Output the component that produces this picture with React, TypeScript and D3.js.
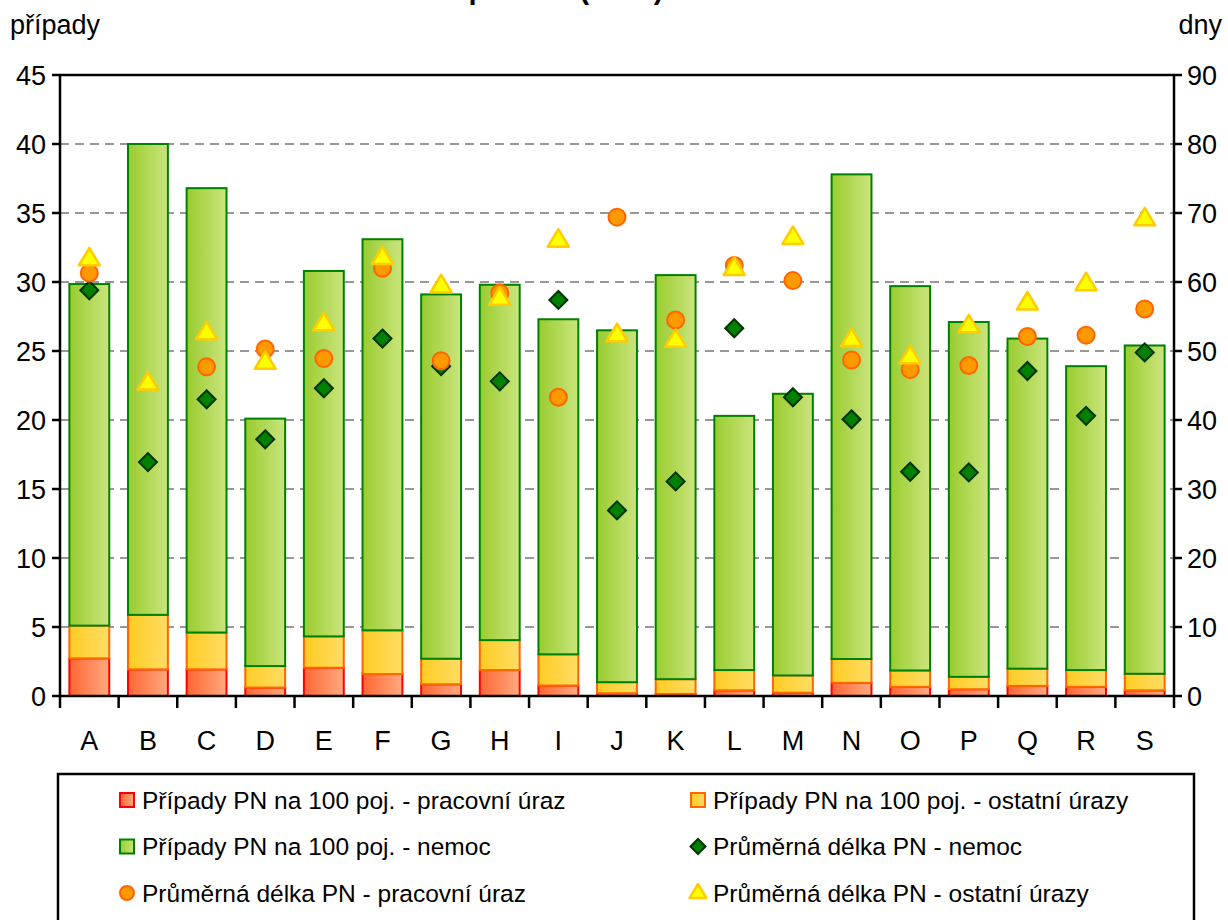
import React from 'react';
import * as d3 from 'd3';

// sekce CZ-NACE
const categories = ['A', 'B', 'C', 'D', 'E', 'F', 'G', 'H', 'I', 'J', 'K', 'L', 'M', 'N', 'O', 'P', 'Q', 'R', 'S'];

// případy PN na 100 pojištěnců (stacked)
const casesWork = [2.73, 1.93, 1.93, 0.61, 2.05, 1.59, 0.85, 1.88, 0.76, 0.2, 0.15, 0.41, 0.24, 0.95, 0.66, 0.49, 0.73, 0.66, 0.41];
const casesOther = [2.37, 3.95, 2.67, 1.56, 2.27, 3.17, 1.85, 2.17, 2.26, 0.8, 1.07, 1.47, 1.25, 1.73, 1.19, 0.9, 1.25, 1.22, 1.2];
const casesIllness = [24.75, 34.12, 32.2, 17.93, 26.48, 28.34, 26.4, 25.75, 24.28, 25.5, 29.28, 18.42, 20.41, 35.12, 27.85, 25.71, 23.92, 22.02, 23.79];

// průměrná délka PN (dny)
const daysIllness = [58.8, 33.9, 43.0, 37.2, 44.6, 51.8, 47.8, 45.6, 57.4, 26.9, 31.1, 53.3, 43.3, 40.1, 32.5, 32.4, 47.1, 40.6, 49.8];
const daysWork = [61.3, null, 47.7, 50.3, 48.9, 62.0, 48.6, 58.4, 43.3, 69.4, 54.5, 62.4, 60.2, 48.7, 47.3, 47.9, 52.1, 52.3, 56.1];
const daysOther = [63.5, 45.5, 52.8, 48.5, 54.1, 63.7, 59.6, 57.8, 66.2, 52.5, 51.7, 62.1, 66.6, 51.8, 49.3, 53.8, 57.1, 59.9, 69.3];

const leftTicks = [0, 5, 10, 15, 20, 25, 30, 35, 40, 45];
const rightTicks = [0, 10, 20, 30, 40, 50, 60, 70, 80, 90];

const legendItems = [
  { label: 'Případy PN na 100 poj. - pracovní úraz', kind: 'red' },
  { label: 'Případy PN na 100 poj. - ostatní úrazy', kind: 'yellow' },
  { label: 'Případy PN na 100 poj. - nemoc', kind: 'green' },
  { label: 'Průměrná délka PN - nemoc', kind: 'diamond' },
  { label: 'Průměrná délka PN - pracovní úraz', kind: 'circle' },
  { label: 'Průměrná délka PN - ostatní úrazy', kind: 'triangle' },
];

const W = 1228;
const H = 920;
const m = { left: 60, right: 1174, top: 75, bottom: 696 };
const FONT = 'Liberation Sans, Arial, sans-serif';

const Diamond = ({ x, y, r }: { x: number; y: number; r: number }) => (
  <path d={`M${x},${y - r}L${x + r},${y}L${x},${y + r}L${x - r},${y}Z`} fill="#008000" stroke="#003300" strokeWidth={2} />
);
const Triangle = ({ x, y, r }: { x: number; y: number; r: number }) => (
  <path d={`M${x},${y - r}L${x + r * 1.05},${y + r * 0.75}L${x - r * 1.05},${y + r * 0.75}Z`} fill="#ffff00" stroke="#ffcc00" strokeWidth={2.5} strokeLinejoin="round" />
);
const Circle = ({ x, y, r }: { x: number; y: number; r: number }) => (
  <circle cx={x} cy={y} r={r} fill="#ff9900" stroke="#ff6600" strokeWidth={2} />
);

export default function App() {
  const x = d3.scaleBand<string>().domain(categories).range([m.left, m.right]).padding(0);
  const yL = d3.scaleLinear().domain([0, 45]).range([m.bottom, m.top]);
  const yR = d3.scaleLinear().domain([0, 90]).range([m.bottom, m.top]);
  const bw = x.bandwidth() * 0.68;

  const stackData = categories.map((c, i) => ({ cat: c, work: casesWork[i], other: casesOther[i], ill: casesIllness[i] }));
  const stack = d3.stack<any>().keys(['work', 'other', 'ill'])(stackData);
  const fills: Record<string, [string, string]> = {
    work: ['url(#gRed)', '#ff0000'],
    other: ['url(#gYel)', '#ff6600'],
    ill: ['url(#gGrn)', '#008000'],
  };

  const cx = (c: string) => (x(c) as number) + x.bandwidth() / 2;

  return (
    <svg width={W} height={H} style={{ display: 'block', position: 'absolute', left: 0, top: 0, background: '#fff' }} fontFamily={FONT}>
      <defs>
        <linearGradient id="gGrn" x1="0" x2="1" y1="0" y2="0">
          <stop offset="0" stopColor="#99cc2e" />
          <stop offset="1" stopColor="#cbe57e" />
        </linearGradient>
        <linearGradient id="gYel" x1="0" x2="1" y1="0" y2="0">
          <stop offset="0" stopColor="#ffcc22" />
          <stop offset="1" stopColor="#ffdd66" />
        </linearGradient>
        <linearGradient id="gRed" x1="0" x2="1" y1="0" y2="0">
          <stop offset="0" stopColor="#ff6633" />
          <stop offset="1" stopColor="#ffaa80" />
        </linearGradient>
      </defs>
      <rect width={W} height={H} fill="#fff" />

      {/* title, cut off at top as in the source (only descenders show) */}
      <text x={246} y={-1.5} fontSize={29} fontWeight="bold">Nemocnost v 1. pololetí (2012)</text>

      <text x={10} y={34} fontSize={27}>případy</text>
      <text x={1222} y={34} fontSize={27} textAnchor="end">dny</text>

      {/* grid */}
      {leftTicks.filter(t => t > 0 && t < 45).map(t => (
        <line key={t} x1={m.left} x2={m.right} y1={yL(t)} y2={yL(t)} stroke="#333" strokeWidth={1.2} strokeDasharray="9,6" />
      ))}

      {/* bars */}
      {stack.map(layer => (
        <g key={layer.key}>
          {layer.map((d, i) => (
            <rect key={i} x={cx(categories[i]) - bw / 2} y={yL(d[1])} width={bw} height={Math.max(0, yL(d[0]) - yL(d[1]))}
              fill={fills[layer.key][0]} stroke={fills[layer.key][1]} strokeWidth={2} />
          ))}
        </g>
      ))}

      {/* markers */}
      {daysIllness.map((v, i) => <Diamond key={'d' + i} x={cx(categories[i])} y={yR(v)} r={9} />)}
      {daysWork.map((v, i) => v == null ? null : <Circle key={'c' + i} x={cx(categories[i])} y={yR(v)} r={8.5} />)}
      {daysOther.map((v, i) => <Triangle key={'t' + i} x={cx(categories[i])} y={yR(v)} r={10} />)}

      {/* frame & axes */}
      <line x1={m.left} x2={m.right} y1={m.top} y2={m.top} stroke="#000" strokeWidth={2.5} />
      <line x1={m.left} x2={m.left} y1={m.top} y2={m.bottom} stroke="#000" strokeWidth={2.5} />
      <line x1={m.right} x2={m.right} y1={m.top} y2={m.bottom} stroke="#000" strokeWidth={2.5} />
      <line x1={m.left} x2={m.right} y1={m.bottom} y2={m.bottom} stroke="#000" strokeWidth={2.5} />

      {leftTicks.map(t => (
        <g key={'l' + t}>
          <line x1={m.left - 8} x2={m.left} y1={yL(t)} y2={yL(t)} stroke="#000" strokeWidth={2.5} />
          <text x={m.left - 14} y={yL(t)} dy="0.36em" fontSize={27} textAnchor="end">{t}</text>
        </g>
      ))}
      {rightTicks.map(t => (
        <g key={'r' + t}>
          <line x1={m.right} x2={m.right + 8} y1={yR(t)} y2={yR(t)} stroke="#000" strokeWidth={2.5} />
          <text x={m.right + 13} y={yR(t)} dy="0.36em" fontSize={27}>{t}</text>
        </g>
      ))}
      {categories.map(c => (
        <g key={'x' + c}>
          <line x1={x(c) as number} x2={x(c) as number} y1={m.bottom} y2={m.bottom + 12} stroke="#000" strokeWidth={2.5} />
          <text x={cx(c)} y={750} fontSize={27} textAnchor="middle">{c}</text>
        </g>
      ))}
      <line x1={m.right} x2={m.right} y1={m.bottom} y2={m.bottom + 12} stroke="#000" strokeWidth={2.5} />

      {/* legend */}
      <rect x={58} y={774} width={1136} height={160} fill="#fff" stroke="#000" strokeWidth={2.5} />
      {legendItems.map((it, i) => {
        const col = i % 2;
        const row = Math.floor(i / 2);
        const mx = col === 0 ? 127 : 698;
        const my = 800 + row * 46.5;
        let marker: React.ReactNode = null;
        if (it.kind === 'red') marker = <rect x={mx - 7} y={my - 7} width={14} height={14} fill="url(#gRed)" stroke="#ff0000" strokeWidth={2} />;
        if (it.kind === 'yellow') marker = <rect x={mx - 7} y={my - 7} width={14} height={14} fill="url(#gYel)" stroke="#ff6600" strokeWidth={2} />;
        if (it.kind === 'green') marker = <rect x={mx - 7} y={my - 7} width={14} height={14} fill="url(#gGrn)" stroke="#008000" strokeWidth={2} />;
        if (it.kind === 'diamond') marker = <Diamond x={mx} y={my} r={7.5} />;
        if (it.kind === 'circle') marker = <Circle x={mx} y={my} r={7} />;
        if (it.kind === 'triangle') marker = <Triangle x={mx} y={my - 1} r={8} />;
        return (
          <g key={it.label}>
            {marker}
            <text x={mx + 15} y={my} dy="0.36em" fontSize={24.5}>{it.label}</text>
          </g>
        );
      })}
    </svg>
  );
}
